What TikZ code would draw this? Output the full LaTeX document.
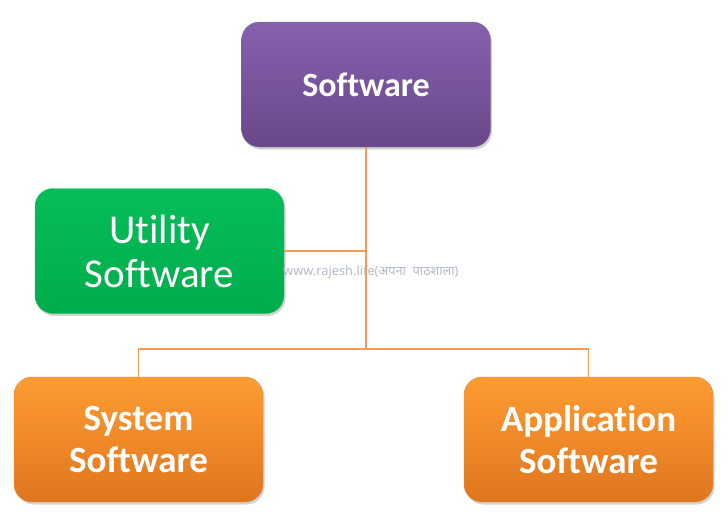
\documentclass[tikz,border=0pt]{standalone}
\usepackage{fontspec}
\setmainfont[Ligatures=NoCommon]{Carlito}
\newfontfamily\devfont[Script=Devanagari]{Noto Sans}
\usetikzlibrary{shadows}

\definecolor{purpletop}{HTML}{8661AE}
\definecolor{purplebot}{HTML}{684889}
\definecolor{greentop}{HTML}{07BD59}
\definecolor{greenbot}{HTML}{00AC4C}
\definecolor{orangetop}{HTML}{FE9C33}
\definecolor{orangebot}{HTML}{DF761F}
\definecolor{linkcol}{HTML}{F59A54}
\definecolor{markcol}{HTML}{B3BAC8}

\begin{document}
\begin{tikzpicture}[x=1pt,y=-1pt,
  box/.style={rounded corners=18pt,minimum width=249pt,minimum height=125pt,
    align=center,text=white,inner sep=0pt,
    drop shadow={shadow xshift=1.5pt,shadow yshift=-2.5pt,opacity=0.35}},
  link/.style={draw=linkcol,line width=1.6pt}]
\useasboundingbox (0,0) rectangle (728,530);
\node[box,top color=purpletop,bottom color=purplebot,draw=purplebot!80!white,
  font=\fontsize{34}{40}\selectfont\bfseries] (sw) at (366,84.5) {Software};
\node[box,top color=greentop,bottom color=greenbot,draw=greenbot!80!white,
  font=\fontsize{41}{44}\selectfont] (ut) at (159.5,251) {Utility\\Software};
\node[box,top color=orangetop,bottom color=orangebot,draw=orangebot!85!white,
  font=\fontsize{37}{42}\selectfont\bfseries] (sys) at (138.5,439.5) {System\\Software};
\node[box,top color=orangetop,bottom color=orangebot,draw=orangebot!85!white,
  font=\fontsize{37}{42}\selectfont\bfseries] (app) at (588.5,439.5) {Application\\Software};
% watermark
\node[text=markcol,font=\devfont\fontsize{12.8}{15}\selectfont,anchor=west,inner sep=0pt] (wm) at (283,272) {www.rajesh.life(अपना\ \ पाठशाला)};
\coordinate (j1) at (366,251);
\coordinate (j2) at (366,349);
\path[link] (sw.south) -- (j2);
\path[link] (ut.east) -- (j1);
\path[link] (sys.north) |- (j2) -| (app.north);
\end{tikzpicture}
\end{document}
